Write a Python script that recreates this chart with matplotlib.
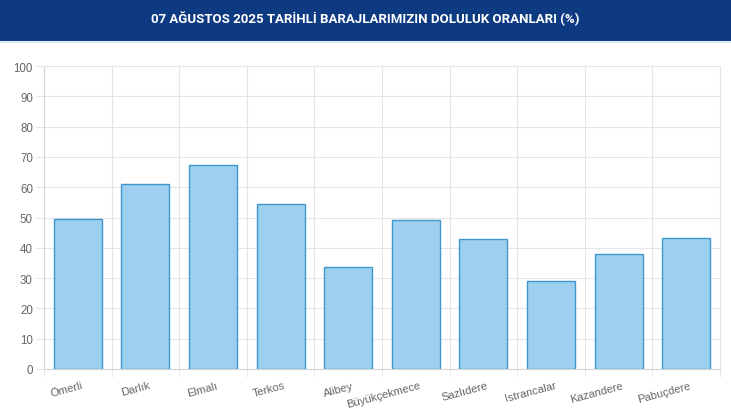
import matplotlib
matplotlib.use("Agg")
import matplotlib.pyplot as plt
import numpy as np

categories = ["Ömerli", "Darlık", "Elmalı", "Terkos", "Alibey", "Büyükçekmece",
              "Sazlıdere", "Istrancalar", "Kazandere", "Pabuçdere"]
values = [49.5, 61.2, 67.3, 54.4, 33.6, 49.1, 42.8, 28.9, 38.0, 43.2]
yticks = [0, 10, 20, 30, 40, 50, 60, 70, 80, 90, 100]
title = "07 AĞUSTOS 2025 TARİHLİ BARAJLARIMIZIN DOLULUK ORANLARI (%)"

fig = plt.figure(figsize=(7.31, 4.10), dpi=100)
fig.patch.set_facecolor("white")

# header band
hdr = fig.add_axes([0, 1 - 42 / 410, 1, 42 / 410])
hdr.set_facecolor("#0e3a82")
hdr.set_xticks([]); hdr.set_yticks([])
for s in hdr.spines.values():
    s.set_visible(False)
hdr.text(0.5, 0.55, title, color="white", fontsize=9.5, fontweight="bold",
         family=["Roboto", "DejaVu Sans"], ha="center", va="center",
         transform=hdr.transAxes)
line = fig.add_axes([0, 1 - 44 / 410, 1, 2 / 410])
line.set_facecolor("#dcebf7")
line.set_xticks([]); line.set_yticks([])
for s in line.spines.values():
    s.set_visible(False)

ax = fig.add_axes([44 / 731, 1 - 370 / 410, 676 / 731, 303 / 410])
x = np.arange(len(categories))
ax.bar(x, values, width=0.71, color="#9dd0ee", edgecolor="#3f97cf", linewidth=1.0, zorder=3)
ax.set_xlim(-0.5, len(categories) - 0.5)
ax.set_ylim(0, 100)
ax.set_yticks(yticks)
ax.set_yticklabels([str(v) for v in yticks], fontsize=8.3, color="#666666",
                   family=["Liberation Sans", "DejaVu Sans"])
ax.set_xticks(x + 0.05)
ax.set_xticklabels(categories, fontsize=8.1, color="#666666", rotation=15,
                   ha="right", rotation_mode="anchor",
                   family=["Liberation Sans", "DejaVu Sans"])
ax.set_xticks(np.arange(-0.5, len(categories) + 0.5, 1), minor=True)
ax.tick_params(axis="x", which="major", length=0, pad=8)
ax.tick_params(axis="x", which="minor", length=6, color="#e5e5e5")
ax.tick_params(axis="y", length=6, color="#e5e5e5", pad=2)
ax.grid(True, axis="y", color="#e5e5e5", linewidth=0.8, zorder=0)
ax.grid(True, axis="x", which="minor", color="#e5e5e5", linewidth=0.8, zorder=0)
for s in ["top", "right"]:
    ax.spines[s].set_color("#e5e5e5")
    ax.spines[s].set_linewidth(0.8)
for s in ["left", "bottom"]:
    ax.spines[s].set_color("#d5d5d5")
    ax.spines[s].set_linewidth(0.8)

fig.savefig("out.png", dpi=100)
